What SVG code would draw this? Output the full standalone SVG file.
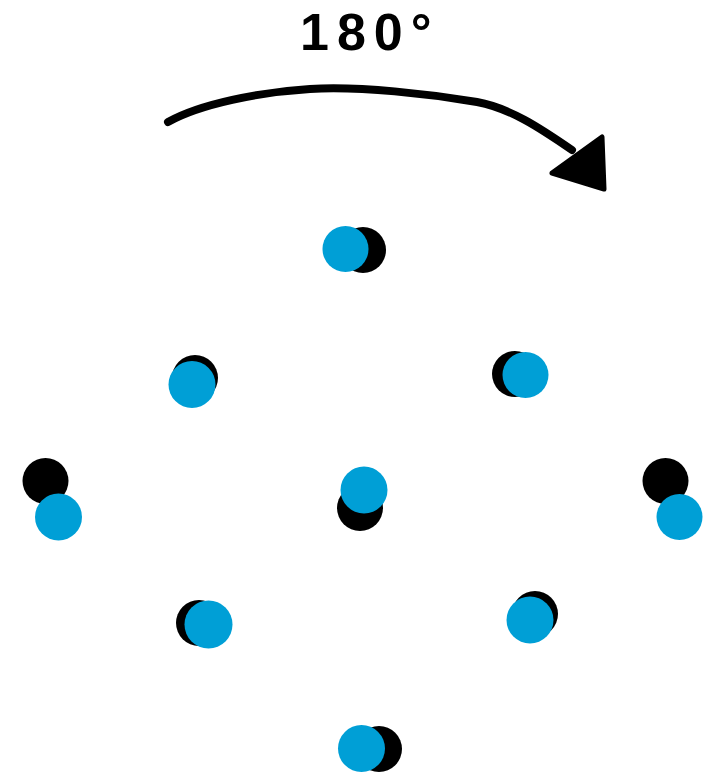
<svg xmlns="http://www.w3.org/2000/svg" width="716" height="774" viewBox="0 0 716 774">
<style>
.k{fill:#000}
.b{fill:#009fd6}
.lbl{font-family:"Liberation Sans",Arial,sans-serif;font-weight:bold;font-size:52px;fill:#000}
</style>
<rect width="716" height="774" fill="#fff"/>
<g id="label"><text class="lbl" x="300" y="50" letter-spacing="8">180°</text></g>
<g id="connectors">
<path d="M168,122 C200,104 260,92 310,89 C360,86 430,94 477,102 C510,108 540,128 572,150" fill="none" stroke="#000" stroke-width="8" stroke-linecap="round"/>
<polygon points="552,173 602,137 604,189" fill="#000" stroke="#000" stroke-width="5" stroke-linejoin="round"/>
</g>
<g id="n1"><circle class="k" cx="363" cy="250" r="23"/><circle class="b" cx="345.5" cy="249" r="23"/></g>
<g id="n2"><circle class="k" cx="195" cy="378" r="23"/><circle class="b" cx="192" cy="384.5" r="23.5"/></g>
<g id="n3"><circle class="k" cx="515" cy="374" r="23"/><circle class="b" cx="525.5" cy="375" r="23"/></g>
<g id="n4"><circle class="k" cx="45.5" cy="481" r="23"/><circle class="b" cx="58.5" cy="517" r="23.5"/></g>
<g id="n5"><circle class="k" cx="360" cy="508" r="23"/><circle class="b" cx="364" cy="490" r="23.5"/></g>
<g id="n6"><circle class="k" cx="665.5" cy="481" r="23"/><circle class="b" cx="679.5" cy="517" r="23"/></g>
<g id="n7"><circle class="k" cx="199" cy="623" r="23"/><circle class="b" cx="208.5" cy="624.5" r="24"/></g>
<g id="n8"><circle class="k" cx="535" cy="614" r="23"/><circle class="b" cx="530" cy="620" r="23.5"/></g>
<g id="n9"><circle class="k" cx="379" cy="749" r="23"/><circle class="b" cx="361.5" cy="748.5" r="23.5"/></g>
</svg>
